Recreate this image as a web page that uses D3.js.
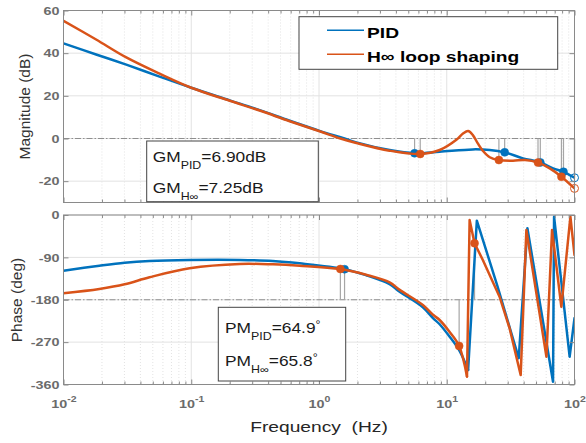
<!DOCTYPE html>
<html><head><meta charset="utf-8">
<script src="https://cdn.jsdelivr.net/npm/d3@7"></script>
<style>body{margin:0;background:#fff;} svg{display:block;font-family:"Liberation Sans",Arial,sans-serif;}</style>
</head><body><svg id="c" width="586" height="443"></svg>
<script>
// ---------------- data ----------------
const xTickDecades = [0.01, 0.1, 1, 10, 100];
const magTicks = [-20, 0, 20, 40, 60];
const phaseTicks = [-360, -270, -180, -90, 0];
const seriesNames = ["PID", "H\u221E loop shaping"];

const magFreqPID = [0.01, 0.018, 0.031, 0.0565, 0.1, 0.2, 0.343, 0.59, 1.01, 1.585, 1.96, 3.57, 5.6, 8.8, 16, 21.7, 28.4, 39.5, 54, 68, 82, 100];
const magPID     = [44.6, 39.4, 34.6, 29.0, 23.8, 17.9, 13.3, 8.3, 3.6, 0, -1.8, -5.4, -6.9, -6.2, -5.1, -5.4, -6.5, -9.3, -11.2, -14.0, -15.6, -18.4];
const magFreqHinf = [0.01, 0.018, 0.031, 0.0565, 0.1, 0.2, 0.343, 0.59, 1.01, 1.47, 1.96, 3.57, 6.2, 8.8, 11.9, 13.4, 14.7, 16.0, 17.5, 19.2, 21.7, 25.6, 33, 41, 51.8, 64, 79, 100];
const magHinf     = [55.2, 46.4, 38.0, 30.4, 23.8, 17.7, 13.1, 8.1, 3.4, 0, -2.1, -5.7, -7.25, -5.4, -0.6, 2.3, 3.5, 1.6, -2.3, -5.8, -8.8, -10.1, -10.4, -10.1, -11.3, -14.0, -17.9, -23.4];

const phFreqPID = [0.01, 0.0191, 0.0301, 0.0471, 0.097, 0.239, 0.4355, 0.705, 1.585, 2.34, 3.57, 4.28, 6.5, 7.8, 8.8, 10.5, 12.5, 14.7, 17.2, 25.0, 36.6, 42.8, 67.9, 69.2, 91.6, 100];
const phPID     = [-118.3, -107.7, -101.3, -97.7, -95.6, -95.5, -97.7, -102.7, -115.1, -128, -147, -163, -196, -219, -232, -258, -287, -329, -12, -152, -304, -28, -354, -3.5, -301, -219];
const phFreqHinf = [0.01, 0.0191, 0.0301, 0.0471, 0.097, 0.239, 0.4355, 0.705, 1.47, 2.34, 3.57, 4.28, 6.5, 7.8, 8.8, 10.5, 12.5, 14.4, 15.1, 16.5, 19.2, 25.9, 31.0, 37.9, 42.0, 60.3, 66.7, 78.9, 92.9, 100];
const phHinf     = [-166, -157, -147.2, -132.3, -113.2, -104, -104.8, -107.6, -114.7, -127, -143, -159, -191, -212, -223, -248, -278, -343, -10.6, -60, -96, -173.5, -240, -340, -32, -301, -32, -195, -3.5, -85];

const gmFreqPID = [5.6, 28.4, 54, 82];
const gmValPID  = [-6.9, -6.5, -11.2, -15.6];
const gmOpenFreqPID = [100];
const gmOpenValPID  = [-18.4];
const gmFreqHinf = [6.2, 25.6, 51.8, 79];
const gmValHinf  = [-7.25, -10.1, -11.3, -17.9];
const gmOpenFreqHinf = [100];
const gmOpenValHinf  = [-23.4];

const pmFreqPID = [1.585];
const pmValPID  = [-115.1];
const pmFreqHinf = [1.47, 12.5, 16.5];
const pmValHinf  = [-114.7, -278, -60];

const gmLabels = [["GM", "PID", "=6.90dB"], ["GM", "H\u221E", "=7.25dB"]];
const pmLabels = [["PM", "PID", "=64.9"], ["PM", "H\u221E", "=65.8"]];

// ---------------- drawing ----------------
const SX = 1.24;
const BLUE = "#0072BD", ORANGE = "#D95319";
const svg = d3.select("#c");
const L = 63.5, R = 574.5;
const magTop = 10.5, magBot = 202.5, phTop = 215, phBot = 384.5;

const x = d3.scaleLog().domain([0.01, 100]).range([L, R]);
const yM = d3.scaleLinear().domain([-30, 60]).range([magBot, magTop]);
const yP = d3.scaleLinear().domain([-360, 0]).range([phBot, phTop]);

const allX = x.ticks();
const isMajor = t => Math.abs(Math.log10(t) - Math.round(Math.log10(t))) < 1e-9;
const minorX = allX.filter(t => !isMajor(t));

function panel(id, y, yTicks, refVal, top, bot) {
  const g = svg.append("g");
  svg.append("defs").append("clipPath").attr("id", id).append("rect")
    .attr("x", L).attr("y", top).attr("width", R - L).attr("height", bot - top);
  g.append("g").selectAll("line").data(minorX).join("line")
    .attr("x1", d => x(d)).attr("x2", d => x(d)).attr("y1", top).attr("y2", bot)
    .attr("stroke", "#dcdcdc").attr("stroke-width", 0.8).attr("stroke-dasharray", "1,2");
  g.append("g").selectAll("line").data(xTickDecades).join("line")
    .attr("x1", d => x(d)).attr("x2", d => x(d)).attr("y1", top).attr("y2", bot)
    .attr("stroke", "#e2e2e2").attr("stroke-width", 1);
  g.append("g").selectAll("line").data(yTicks).join("line")
    .attr("x1", L).attr("x2", R).attr("y1", d => y(d)).attr("y2", d => y(d))
    .attr("stroke", "#e2e2e2").attr("stroke-width", 1);
  g.append("line").attr("x1", L).attr("x2", R).attr("y1", y(refVal)).attr("y2", y(refVal))
    .attr("stroke", "#8f8f8f").attr("stroke-width", 1).attr("stroke-dasharray", "6,2,1.5,2");
  return g;
}

function axes(y, yTicks, top, bot, withXLabels) {
  const col = "#8a8a8a";
  const style = sel => { sel.select(".domain").remove(); sel.selectAll("line").attr("stroke", col); };
  svg.append("g").attr("transform", `translate(0,${bot})`).call(d3.axisBottom(x).tickValues(minorX).tickSizeInner(-3).tickSizeOuter(0).tickFormat("")).call(style);
  svg.append("g").attr("transform", `translate(0,${top})`).call(d3.axisTop(x).tickValues(minorX).tickSizeInner(-3).tickSizeOuter(0).tickFormat("")).call(style);
  svg.append("g").attr("transform", `translate(0,${top})`).call(d3.axisTop(x).tickValues(xTickDecades).tickSizeInner(-5).tickSizeOuter(0).tickFormat("")).call(style);
  const xb = svg.append("g").attr("transform", `translate(0,${bot})`)
    .call(d3.axisBottom(x).tickValues(xTickDecades).tickSizeInner(-5).tickSizeOuter(0).tickFormat(withXLabels ? (d => "10") : "")).call(style);
  if (withXLabels) {
    xb.selectAll(".tick text").each(function(d) {
      const t = d3.select(this);
      t.text(null).attr("y", null).attr("dy", null)
        .attr("transform", `translate(0,${408.3 - bot}) scale(${SX},1)`)
        .attr("font-size", 11.6).attr("font-weight", "bold").attr("fill", "#6b6b6b")
        .attr("font-family", "Liberation Sans, Arial, sans-serif");
      t.append("tspan").text("10");
      t.append("tspan").attr("dy", -6.5).attr("font-size", 8.5).text(String(Math.round(Math.log10(d))));
    });
  }
  svg.append("g").attr("transform", `translate(${R},0)`).call(d3.axisRight(y).tickValues(yTicks).tickSizeInner(-5).tickSizeOuter(0).tickFormat("")).call(style);
  const yl = svg.append("g").attr("transform", `translate(${L},0)`)
    .call(d3.axisLeft(y).tickValues(yTicks).tickSizeInner(-5).tickSizeOuter(0).tickPadding(4).tickFormat(d => String(d))).call(style);
  yl.selectAll(".tick text")
    .attr("x", -4 / SX).attr("transform", `scale(${SX},1)`)
    .attr("font-size", 11.6).attr("font-weight", "bold").attr("fill", "#6b6b6b")
    .attr("font-family", "Liberation Sans, Arial, sans-serif");
  svg.append("rect").attr("x", L).attr("y", top).attr("width", R - L).attr("height", bot - top)
    .attr("fill", "none").attr("stroke", col).attr("stroke-width", 1);
}

function curve(g, clip, y, fx, fy, color, split) {
  const pts = d3.zip(fx, fy);
  const smooth = d3.line().x(d => x(d[0])).y(d => y(d[1])).curve(d3.curveCatmullRom.alpha(0.5));
  const lin = d3.line().x(d => x(d[0])).y(d => y(d[1]));
  const cg = g.append("g").attr("clip-path", `url(#${clip})`);
  let parts = [[pts, smooth]];
  if (split) {
    const i = pts.findIndex((p, k) => k > 0 && p[1] - pts[k - 1][1] > 100);
    if (i > 0) parts = [[pts.slice(0, i), smooth], [pts.slice(i - 1), lin]];
  }
  parts.forEach(([p, gen]) => {
    cg.append("path").attr("d", gen(p)).attr("fill", "none").attr("stroke", color)
      .attr("stroke-width", 2.5).attr("stroke-linejoin", "round").attr("stroke-linecap", "round");
  });
}

function marginLines(g, y, fx, fy, ref) {
  g.append("g").selectAll("line").data(d3.zip(fx, fy)).join("line")
    .attr("x1", d => x(d[0])).attr("x2", d => x(d[0]))
    .attr("y1", y(ref)).attr("y2", d => y(d[1]))
    .attr("stroke", "#a6a6a6").attr("stroke-width", 1.2);
}
function markers(g, y, fx, fy, color, open) {
  g.append("g").selectAll("circle").data(d3.zip(fx, fy)).join("circle")
    .attr("cx", d => x(d[0])).attr("cy", d => y(d[1])).attr("r", 4)
    .attr("fill", open ? "none" : color).attr("stroke", color).attr("stroke-width", open ? 1 : 0.5);
}

// ---- magnitude panel ----
const gM = panel("clipM", yM, magTicks, 0, magTop, magBot);
marginLines(gM, yM, gmFreqPID.concat(gmOpenFreqPID), gmValPID.concat(gmOpenValPID), 0);
marginLines(gM, yM, gmFreqHinf.concat(gmOpenFreqHinf), gmValHinf.concat(gmOpenValHinf), 0);
curve(gM, "clipM", yM, magFreqPID, magPID, BLUE, false);
markers(gM, yM, gmFreqPID, gmValPID, BLUE, false);
markers(gM, yM, gmOpenFreqPID, gmOpenValPID, BLUE, true);
curve(gM, "clipM", yM, magFreqHinf, magHinf, ORANGE, false);
markers(gM, yM, gmFreqHinf, gmValHinf, ORANGE, false);
markers(gM, yM, gmOpenFreqHinf, gmOpenValHinf, ORANGE, true);
axes(yM, magTicks, magTop, magBot, false);

// ---- phase panel ----
const gP = panel("clipP", yP, phaseTicks, -180, phTop, phBot);
marginLines(gP, yP, pmFreqPID, pmValPID, -180);
marginLines(gP, yP, pmFreqHinf, pmValHinf, -180);
curve(gP, "clipP", yP, phFreqPID, phPID, BLUE, true);
markers(gP, yP, pmFreqPID, pmValPID, BLUE, false);
curve(gP, "clipP", yP, phFreqHinf, phHinf, ORANGE, true);
markers(gP, yP, pmFreqHinf, pmValHinf, ORANGE, false);
axes(yP, phaseTicks, phTop, phBot, true);

// ---- axis titles ----
svg.append("text").attr("transform", "translate(29.5,106.5) rotate(-90)")
  .attr("text-anchor", "middle").attr("font-size", 15.5).attr("fill", "#333").text("Magnitude (dB)");
svg.append("text").attr("transform", "translate(21.5,300) rotate(-90)")
  .attr("text-anchor", "middle").attr("font-size", 15.5).attr("fill", "#333").text("Phase (deg)");
svg.append("text").attr("transform", `translate(${(L + R) / 2},431.5) scale(${SX},1)`)
  .attr("text-anchor", "middle").attr("font-size", 15.5).attr("fill", "#262626")
  .style("white-space", "pre").text("Frequency  (Hz)");

// ---- legend ----
const leg = svg.append("g");
leg.append("rect").attr("x", 299).attr("y", 16.7).attr("width", 258.7).attr("height", 52.6)
  .attr("fill", "#fff").attr("stroke", "#444").attr("stroke-width", 1);
[BLUE, ORANGE].forEach((c, i) => {
  const ly = [30.3, 54.3][i];
  leg.append("line").attr("x1", 327).attr("x2", 364).attr("y1", ly).attr("y2", ly)
    .attr("stroke", c).attr("stroke-width", 1.4);
  leg.append("text").attr("transform", `translate(367,${[37.7, 62.3][i]}) scale(${SX},1)`)
    .attr("font-size", 15.5).attr("font-weight", "bold").attr("fill", "#000").text(seriesNames[i]);
});

// ---- annotation boxes ----
function annot(bx, by, bw, bh, tx, lines, labels, deg) {
  const a = svg.append("g");
  a.append("rect").attr("x", bx).attr("y", by).attr("width", bw).attr("height", bh)
    .attr("fill", "#fff").attr("stroke", "#444").attr("stroke-width", 1);
  labels.forEach((lab, i) => {
    const t = a.append("text").attr("transform", `translate(${tx},${lines[i]}) scale(${SX},1)`)
      .attr("font-size", 14).attr("fill", "#1a1a1a");
    t.append("tspan").text(lab[0]);
    t.append("tspan").attr("font-size", 10).attr("dy", 7).text(lab[1]);
    t.append("tspan").attr("font-size", 14).attr("dy", -7).text(lab[2]);
    if (deg) t.append("tspan").attr("font-size", 10).attr("dy", -5).text("\u00B0");
  });
}
annot(146.7, 141, 171.6, 60.7, 152.7, [161.7, 193.3], gmLabels, false);
annot(218.3, 307.3, 127.4, 73.7, 225, [333.3, 366], pmLabels, true);
</script></body></html>
